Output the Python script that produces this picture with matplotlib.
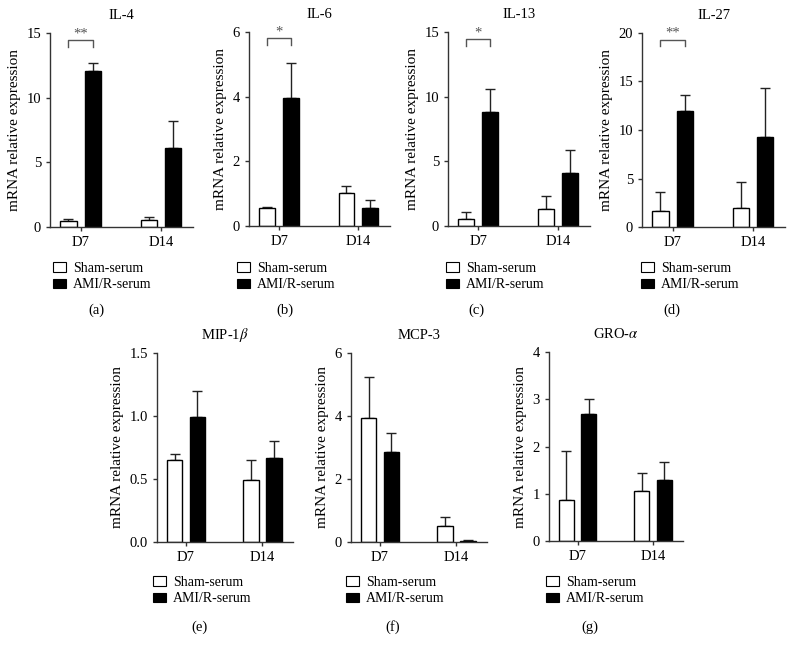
import matplotlib
matplotlib.use("Agg")
import matplotlib.pyplot as plt
from matplotlib.patches import Patch

plt.rcParams['font.family'] = ['Liberation Serif', 'DejaVu Serif']
plt.rcParams['mathtext.fontset'] = 'stix'

groups = ["D7", "D14"]
series_names = ["Sham-serum", "AMI/R-serum"]

titles = ["IL-4", "IL-6", "IL-13", "IL-27", "MIP-1$\\beta$", "MCP-3", "GRO-$\\alpha$"]
letters = ["(a)", "(b)", "(c)", "(d)", "(e)", "(f)", "(g)"]

sham_vals = [[0.43, 0.55], [0.55, 1.02], [0.55, 1.3], [1.7, 2.0], [0.65, 0.49], [3.95, 0.5], [0.87, 1.06]]
sham_err = [[0.21, 0.2], [0.05, 0.23], [0.55, 1.05], [1.95, 2.6], [0.05, 0.16], [1.3, 0.3], [1.03, 0.38]]
ami_vals = [[12.1, 6.1], [3.95, 0.55], [8.8, 4.1], [12.0, 9.3], [0.99, 0.67], [2.87, 0.03], [2.68, 1.29]]
ami_err = [[0.6, 2.1], [1.1, 0.25], [1.8, 1.8], [1.6, 5.0], [0.21, 0.13], [0.6, 0.04], [0.33, 0.38]]

y_max = [15, 6, 15, 20, 1.5, 6, 4]
y_ticks = [[0, 5, 10, 15], [0, 2, 4, 6], [0, 5, 10, 15], [0, 5, 10, 15, 20],
           [0.0, 0.5, 1.0, 1.5], [0, 2, 4, 6], [0, 1, 2, 3, 4]]
y_ticklabels = [["0", "5", "10", "15"], ["0", "2", "4", "6"], ["0", "5", "10", "15"],
                ["0", "5", "10", "15", "20"], ["0.0", "0.5", "1.0", "1.5"],
                ["0", "2", "4", "6"], ["0", "1", "2", "3", "4"]]

# significance (panel index -> (bracket level, tick bottom, text))
signif = {0: (14.45, 13.9, "**"), 1: (5.8, 5.6, "*"), 2: (14.45, 13.9, "*"), 3: (19.3, 18.65, "**")}

W, H = 792, 652
# axes pixel boxes: left, right, top, bottom
boxes = [(50, 193, 33, 227), (249, 390, 32, 226), (448, 590, 32, 226), (642, 785, 33, 227),
         (157, 293, 353, 542), (351, 487, 353, 542), (549, 683, 352, 541)]
legend_pos = [(53, 262), (237, 262), (446, 262), (641, 262), (153, 576), (346, 576), (546, 576)]
letter_pos = [(96, 310), (285, 310), (476, 310), (672, 310), (200, 627), (393, 627), (590, 627)]

fig = plt.figure(figsize=(W / 100, H / 100), dpi=100)

off = 0.15
bw = 0.2
xs = [0, 1]
for i in range(7):
    l, r, t, b = boxes[i]
    ax = fig.add_axes([l / W, 1 - b / H, (r - l) / W, (b - t) / H])
    ax.bar([x - off for x in xs], sham_vals[i], width=bw, color='white', edgecolor='black', linewidth=1.0, zorder=2)
    ax.bar([x + off for x in xs], ami_vals[i], width=bw, color='black', edgecolor='black', linewidth=1.0, zorder=2)
    ax.errorbar([x - off for x in xs], sham_vals[i], yerr=[[0, 0], sham_err[i]], fmt='none',
                ecolor='#222222', elinewidth=1.0, capsize=3.8, capthick=1.0, zorder=1)
    ax.errorbar([x + off for x in xs], ami_vals[i], yerr=[[0, 0], ami_err[i]], fmt='none',
                ecolor='#222222', elinewidth=1.0, capsize=3.8, capthick=1.0, zorder=1)
    ax.set_xlim(-0.38, 1.4)
    ax.set_ylim(0, y_max[i])
    ax.set_xticks(xs)
    ax.set_xticklabels(groups, fontsize=10.5)
    ax.set_yticks(y_ticks[i])
    ax.set_yticklabels(y_ticklabels[i], fontsize=10.5)
    ax.tick_params(direction='out', length=3, width=1, color='#333333')
    for s in ['top', 'right']:
        ax.spines[s].set_visible(False)
    for s in ['left', 'bottom']:
        ax.spines[s].set_linewidth(1.0)
        ax.spines[s].set_color('#333333')
    ax.set_ylabel("mRNA relative expression", fontsize=11)
    ax.set_title(titles[i], fontsize=10.5, pad=10)
    if i in signif:
        lvl, bot, txt = signif[i]
        ax.plot([-off, -off, off, off], [bot, lvl, lvl, bot], color='#555555', lw=1.0, clip_on=False)
        ax.text(0, lvl, txt, ha='center', va='bottom', color='#555555', fontsize=10.5)
    handles = [Patch(facecolor='white', edgecolor='black', linewidth=0.8),
               Patch(facecolor='black', edgecolor='black', linewidth=0.8)]
    lx, ly = legend_pos[i]
    fig.legend(handles, series_names, loc='upper left', bbox_to_anchor=(lx / W, 1 - ly / H),
               frameon=False, fontsize=10, handlelength=0.95, handleheight=0.7,
               handletextpad=0.5, labelspacing=0.25, borderpad=0, borderaxespad=0)
    px, py = letter_pos[i]
    fig.text(px / W, 1 - py / H, letters[i], ha='center', va='center', fontsize=10.5)

fig.savefig("out.png", dpi=100)
